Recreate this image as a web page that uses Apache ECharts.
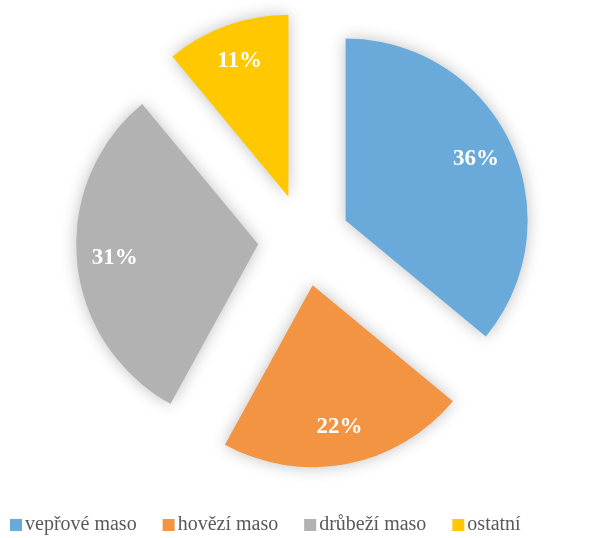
<!DOCTYPE html>
<html>
<head>
<meta charset="utf-8">
<script src="https://cdn.jsdelivr.net/npm/echarts@6/dist/echarts.min.js"></script>
<style>
  html, body { margin: 0; padding: 0; background: #fff; }
  #chart { width: 614px; height: 538px; }
</style>
</head>
<body>
<div id="chart"></div>
<script>
// podíl druhů masa
const categories = ['vepřové maso', 'hovězí maso', 'drůbeží maso', 'ostatní']
const values = [36, 22, 31, 11]
const colors = ['#6AAADB', '#F29441', '#B2B2B2', '#FFC800']

const pieData = categories.map(function (name, i) {
  return { name: name, value: values[i], selected: true }
})

const chart = echarts.init(document.getElementById('chart'))
chart.setOption({
  color: colors,
  animation: false,
  textStyle: {
    fontFamily: "'Liberation Serif', 'Times New Roman', serif"
  },
  legend: {
    left: 5,
    bottom: -2,
    icon: 'rect',
    itemWidth: 12,
    itemHeight: 12,
    itemGap: 26,
    selectedMode: false,
    textStyle: {
      fontFamily: "'Liberation Serif', 'Times New Roman', serif",
      fontSize: 20,
      color: '#595959',
      padding: [0, 0, 0, -2]
    },
    data: categories
  },
  series: [
    {
      type: 'pie',
      center: [304, 240],
      radius: [0, 182],
      startAngle: 90,
      selectedMode: 'multiple',
      selectedOffset: 46,
      silent: true,
      label: { show: false },
      labelLine: { show: false },
      itemStyle: {
        shadowBlur: 16,
        shadowColor: 'rgba(0,0,0,0.25)'
      },
      emphasis: { disabled: true },
      data: pieData
    },
    {
      type: 'pie',
      center: [304, 240],
      radius: [100, 182],
      startAngle: 90,
      selectedMode: 'multiple',
      selectedOffset: 46,
      silent: true,
      itemStyle: { color: 'transparent' },
      label: {
        show: true,
        position: 'inside',
        formatter: '{c}%',
        fontFamily: "'Liberation Serif', 'Times New Roman', serif",
        fontWeight: 'bold',
        fontSize: 23,
        color: '#fff'
      },
      labelLine: { show: false },
      emphasis: { disabled: true },
      data: pieData
    }
  ]
})
</script>
</body>
</html>
